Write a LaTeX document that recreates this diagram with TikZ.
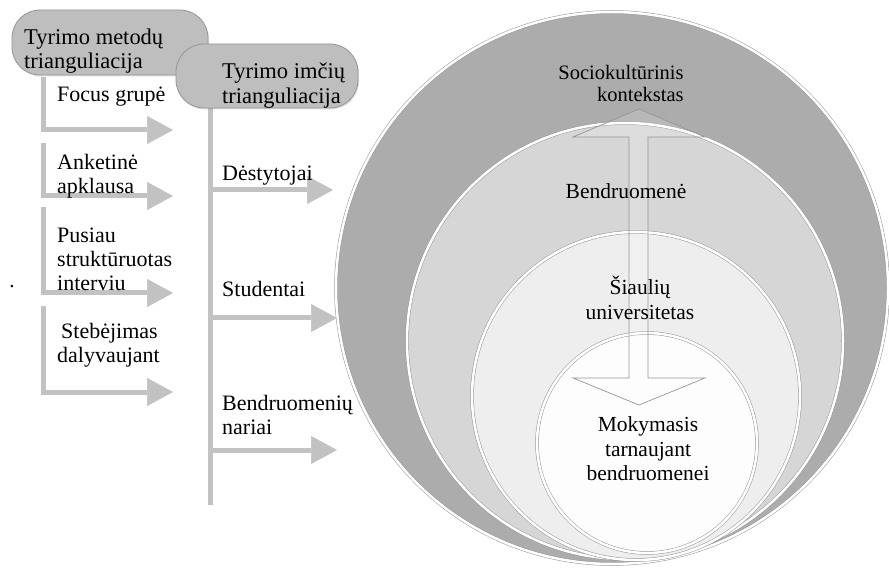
\documentclass[tikz,border=0pt]{standalone}
\usepackage{fontspec}
\setmainfont{Liberation Serif}
\usetikzlibrary{arrows.meta,shadows}

\definecolor{ctxgray}{RGB}{172,172,172}
\definecolor{comgray}{RGB}{214,214,214}
\definecolor{unigray}{RGB}{238,238,238}
\definecolor{lrngray}{RGB}{253,253,253}
\definecolor{hdrgray}{RGB}{190,190,190}
\definecolor{brkgray}{RGB}{194,194,194}
\definecolor{edgegray}{RGB}{150,150,150}

\tikzset{
  txt/.style={anchor=west, align=left, inner sep=0pt, font=\fontsize{22}{24}\selectfont},
  ctxt/.style={align=center, inner sep=0pt, font=\fontsize{21.5}{24.5}\selectfont},
  hdrbox/.style={draw=edgegray, fill=hdrgray, rounded corners=28pt, line width=0.8pt,
    drop shadow={shadow xshift=1pt, shadow yshift=-1.5pt, opacity=0.25}},
  ring/.style={circle, draw=edgegray, line width=0.5pt, double=white, double distance=2.5pt},
  brk/.style={draw=brkgray, line width=5pt,
    -{Triangle[length=26pt, width=28pt, fill=brkgray, line width=0.6pt]}},
  bar/.style={draw=brkgray, line width=5pt}
}

\begin{document}
\begin{tikzpicture}[x=1pt, y=-1pt]
  \useasboundingbox[fill=white] (0,0) rectangle (889,569);

  % nested circles
  \node[ring, fill=ctxgray, minimum size=552pt] (ctx) at (612,288) {};
  \node[ring, fill=comgray, minimum size=436pt] (com) at (625,341) {};
  \node[ring, fill=unigray, minimum size=328pt] (uni) at (636,396) {};
  \node[ring, fill=lrngray, minimum size=220pt] (lrn) at (647,443) {};

  % double block arrow
  \draw[edgegray, line width=0.7pt, fill=white, fill opacity=0.15, line join=miter]
    (639,109) -- (705,137) -- (648,137) -- (648,378) -- (705,378) -- (639,405)
    -- (573,378) -- (629,378) -- (629,137) -- (573,137) -- cycle;

  \node[ctxt, align=right, font=\fontsize{20.5}{22}\selectfont] (ctxtxt) at (621,83) {Sociokultūrinis\\kontekstas};
  \node[ctxt] (comtxt) at (626,191) {Bendruomenė};
  \node[ctxt] (unitxt) at (640,298) {Šiaulių\\universitetas};
  \node[ctxt] (lrntxt) at (648,449) {Mokymasis\\tarnaujant\\bendruomenei};

  % methods
  \coordinate (m1) at (43,77);  \coordinate (m1e) at (173,130);
  \coordinate (m2) at (43,143); \coordinate (m2e) at (173,196);
  \coordinate (m3) at (43,207); \coordinate (m3e) at (173,293);
  \coordinate (m4) at (43,306); \coordinate (m4e) at (173,392);
  \draw[brk] (m1) |- (m1e);
  \draw[brk] (m2) |- (m2e);
  \draw[brk] (m3) |- (m3e);
  \draw[brk] (m4) |- (m4e);

  \node[txt] (focus) at (57,97) {Focus grupė};
  \node[txt] (anket) at (57,176) {Anketinė\\apklausa};
  \node[txt] (pusiau) at (57,259) {Pusiau\\struktūruotas\\interviu};
  \node[txt] (stebej) at (57,345) {\hspace*{4pt}Stebėjimas\\dalyvaujant};

  % samples
  \coordinate (s0) at (210,108); \coordinate (s9) at (210,505);
  \coordinate (s1) at (210,190); \coordinate (s1e) at (333,190);
  \coordinate (s2) at (210,318); \coordinate (s2e) at (337,318);
  \coordinate (s3) at (210,450); \coordinate (s3e) at (337,450);
  \draw[bar] (s0) -- (s9);
  \draw[brk] (s1) -- (s1e);
  \draw[brk] (s2) -- (s2e);
  \draw[brk] (s3) -- (s3e);

  \node[txt] (dest) at (222,176) {Dėstytojai};
  \node[txt] (stud) at (222,289) {Studentai};
  \node[txt] (narys) at (222,415) {Bendruomenių\\nariai};

  % headers
  \node[hdrbox, minimum width=196pt, minimum height=65pt] (methbox) at (110,42.5) {};
  \node[txt, font=\fontsize{22.5}{24}\selectfont] (methtxt) at (24,51) {Tyrimo metodų\\trianguliacija};
  \node[hdrbox, minimum width=182pt, minimum height=64pt] (smplbox) at (267,76) {};
  \node[txt, font=\fontsize{22.5}{25}\selectfont] (smpltxt) at (222,86) {Tyrimo imčių\\trianguliacija};

  \node[inner sep=0pt, font=\fontsize{21}{24}\selectfont] (dot) at (12,287) {.};
\end{tikzpicture}
\end{document}
